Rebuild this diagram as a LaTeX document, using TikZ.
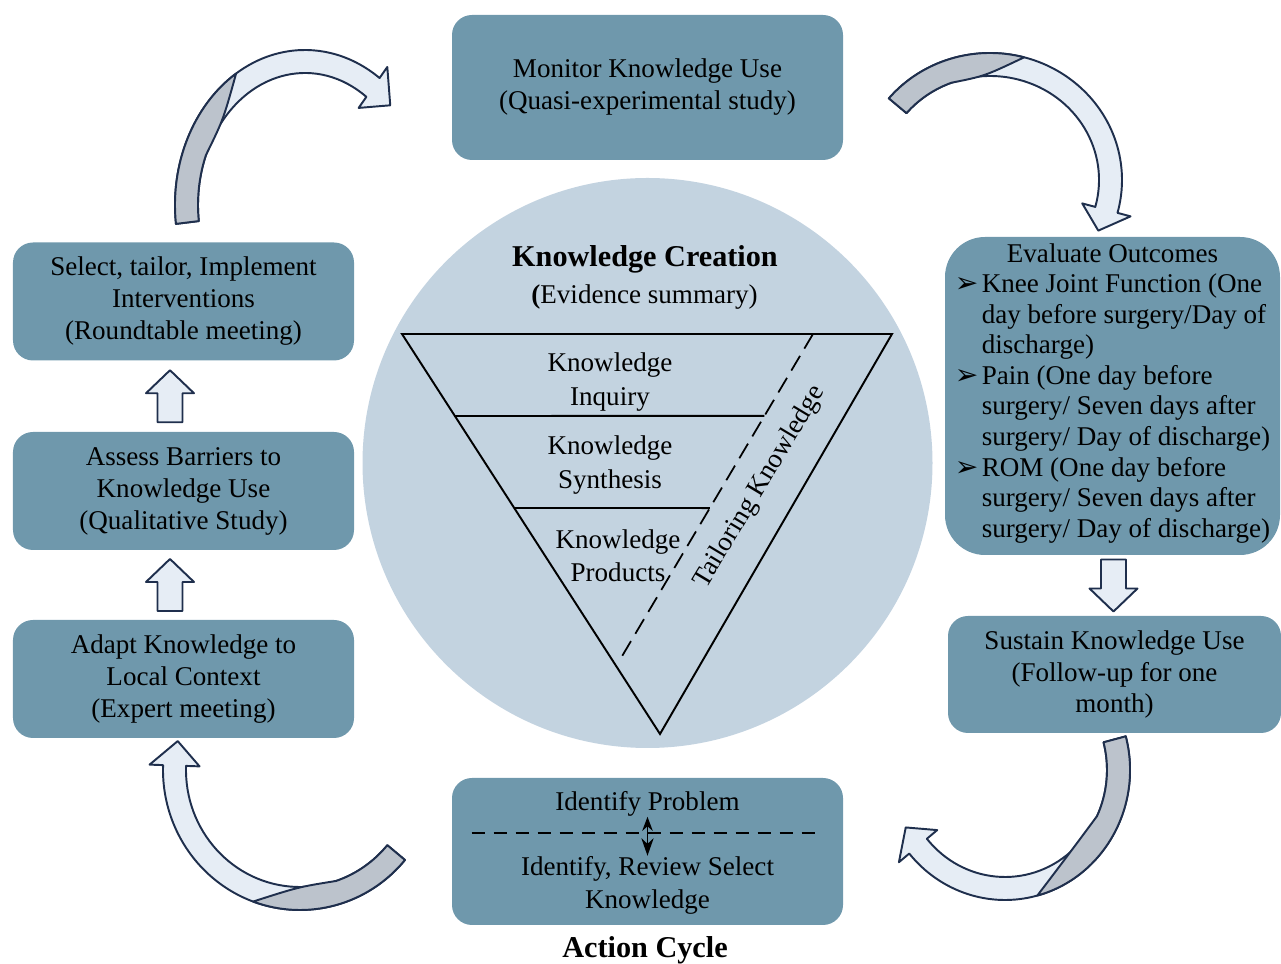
\documentclass[tikz,border=0pt]{standalone}
\usepackage{fontspec}
\setmainfont{Liberation Serif}
\newfontfamily\symfont{DejaVu Sans}
\usetikzlibrary{calc,arrows.meta}

\definecolor{boxblue}{HTML}{6F98AC}
\definecolor{discblue}{HTML}{C3D3E0}
\definecolor{arrowlight}{HTML}{E6EDF5}
\definecolor{arrowgray}{HTML}{BCC3CC}
\definecolor{arrowline}{HTML}{1F2F4D}

% bullet for the outcome list
\newcommand\bul{\makebox[0.54cm][l]{\symfont\fontsize{16}{16}\selectfont ➢}}

% curved block arrow: centre x, centre y, x radius, y radius, tail, twist, head angle
\newcommand\bendarrow[7]{%
  \begin{scope}[shift={(#1,#2)}]
    \pgfmathsetmacro\rxo{#3}\pgfmathsetmacro\ryo{#4}
    \pgfmathsetmacro\rxi{#3-0.46}\pgfmathsetmacro\ryi{#4-0.46}
    \pgfmathsetmacro\rxm{#3-0.23}\pgfmathsetmacro\rym{#4-0.23}
    \pgfmathsetmacro\rxb{#3+0.27}\pgfmathsetmacro\ryb{#4+0.27}
    \pgfmathsetmacro\rxc{#3-0.73}\pgfmathsetmacro\ryc{#4-0.73}
    \pgfmathsetmacro\hdtip{#7-11}
    \pgfmathsetmacro\twg{#5+0.45*(#6-#5)}
    \pgfmathsetmacro\twc{(#6+\twg)/2}
    % light front of the band with its head
    \draw[blockarrow] ({\rxo*cos(#5)},{\ryo*sin(#5)})
      arc[start angle=#5, end angle=#7, x radius=\rxo, y radius=\ryo]
      -- ({\rxb*cos(#7)},{\ryb*sin(#7)})
      -- ({\rxm*cos(\hdtip)},{\rym*sin(\hdtip)})
      -- ({\rxc*cos(#7)},{\ryc*sin(#7)})
      -- ({\rxi*cos(#7)},{\ryi*sin(#7)})
      arc[start angle=#7, end angle=#5, x radius=\rxi, y radius=\ryi] -- cycle;
    % grey back showing at the tail
    \draw[bendline, fill=arrowgray] ({\rxo*cos(#5)},{\ryo*sin(#5)})
      arc[start angle=#5, end angle=#6, x radius=\rxo, y radius=\ryo]
      .. controls ({\rxi*cos(\twc)},{\ryi*sin(\twc)}) .. ({\rxi*cos(\twg)},{\ryi*sin(\twg)})
      arc[start angle=\twg, end angle=#5, x radius=\rxi, y radius=\ryi] -- cycle;
  \end{scope}}

\tikzset{
  blockup/.pic={
    \draw[blockarrow] (-0.25,-0.52) -- (0.25,-0.52) -- (0.25,0.06) -- (0.48,0.06)
      -- (0,0.52) -- (-0.48,0.06) -- (-0.25,0.06) -- cycle;
  }
}

\begin{document}
\begin{tikzpicture}[
    phase/.style={fill=boxblue, rounded corners=0.4cm, align=center, inner sep=0pt,
      font=\fontsize{15.4}{18.2}\selectfont},
    sidephase/.style={phase, minimum width=6.82cm, minimum height=2.36cm},
    plain/.style={align=center, inner sep=0pt, font=\fontsize{15.4}{18.7}\selectfont},
    layer/.style={align=center, inner sep=0pt, font=\fontsize{15.4}{19}\selectfont},
    title/.style={inner sep=0pt, font=\fontsize{17.2}{20}\selectfont\bfseries},
    bendline/.style={draw=arrowline, line width=1.1pt, line join=round},
    blockarrow/.style={bendline, fill=arrowlight}
]
\useasboundingbox (0,0) rectangle (25.62,19.28);

% Knowledge creation funnel
\fill[discblue] (12.95,10.02) circle (5.7);
\node[title] (create) at (12.9,14.1) {Knowledge Creation};
\node[plain] (evid) at (12.89,13.33) {\textbf{(}Evidence summary)};

\coordinate (tl) at (8.04,12.6);
\coordinate (tr) at (17.84,12.6);
\coordinate (bot) at (13.2,4.6);
\coordinate (d1) at (16.26,12.6);
\coordinate (d2) at (12.36,6.02);
\draw[line width=1.1pt] (tl) -- (tr) -- (bot) -- cycle;
\draw[line width=1.1pt] ($(tl)!0.205!(bot)$) -- ($(d1)!0.249!(d2)$);
\draw[line width=1.1pt] ($(tl)!0.435!(bot)$) -- ($(d1)!0.529!(d2)$);
\draw[line width=1pt, dash pattern=on 0.34cm off 0.17cm] (d1) -- (d2);

\node[layer] (inquiry) at (12.2,11.64) {Knowledge\\Inquiry};
\node[layer] (synth) at (12.2,9.98) {Knowledge\\Synthesis};
\node[layer] (prod) at (12.36,8.16) {Knowledge\\Products};
\node[layer, rotate=59] (tailor) at (15.2,9.54) {Tailoring Knowledge};

% Action cycle phases
\node[phase, minimum width=7.82cm, minimum height=2.9cm] (monitor) at (12.95,17.53)
  {Monitor Knowledge Use\\(Quasi-experimental study)};
\node[sidephase] (select) at (3.67,13.25)
  {Select, tailor, Implement\\Interventions\\(Roundtable meeting)};
\node[sidephase] (assess) at (3.67,9.46)
  {Assess Barriers to\\Knowledge Use\\(Qualitative Study)};
\node[sidephase] (adapt) at (3.67,5.7)
  {Adapt Knowledge to\\Local Context\\(Expert meeting)};
\node[phase, minimum width=6.66cm, minimum height=2.34cm] (sustain) at (22.29,5.79)
  {Sustain Knowledge Use\\(Follow-up for one\\month)};
\node[phase, rounded corners=0.8cm, minimum width=6.7cm, minimum height=6.36cm] (evaluate) at (22.25,11.36)
  {\fontsize{15.4}{17.4}\selectfont
   \begin{tabular}{@{}l@{}l@{}}
   \multicolumn{2}{c}{Evaluate Outcomes}\\
   \bul & Knee Joint Function (One\\
        & day before surgery/Day of\\
        & discharge)\\
   \bul & Pain (One day before\\
        & surgery/ Seven days after\\
        & surgery/ Day of discharge)\\
   \bul & ROM (One day before\\
        & surgery/ Seven days after\\
        & surgery/ Day of discharge)\\[0.1cm]
   \end{tabular}};

\node[phase, minimum width=7.82cm, minimum height=2.94cm] (ident) at (12.95,2.25) {};
\node[plain] (prob) at (12.95,3.2) {Identify Problem};
\node[plain] (rev) at (12.95,1.58) {Identify, Review Select\\Knowledge};
\draw[line width=1.2pt, dash pattern=on 0.26cm off 0.18cm]
  ($(ident.west)+(0.4,0.37)$) -- ($(ident.east)+(-0.5,0.37)$);
\draw[line width=0.9pt, {Stealth[length=8pt,width=6pt]}-{Stealth[length=10pt,width=7pt]}]
  (prob.south) -- (rev.north);

\node[title, anchor=base] (cycle) at (12.9,0.12) {Action Cycle};

% Straight arrows between the stacked phases
\pic at ($($(assess.north)!0.5!(select.south)$)+(-0.27,0)$) {blockup};
\pic at ($($(adapt.north)!0.5!(assess.south)$)+(-0.27,0)$) {blockup};
\pic[rotate=180] at ($(evaluate.south)!0.5!(sustain.north)$) {blockup};

% Curved arrows round the cycle
\bendarrow{6.1}{15.18}{2.6}{3.1}{187}{122}{55}
\bendarrow{19.8}{15.68}{2.64}{2.54}{140}{75}{-15}
\bendarrow{20.1}{3.88}{2.5}{2.6}{15}{-75}{-140}
\bendarrow{6.0}{3.88}{2.74}{2.8}{-40}{-110}{-182}
\end{tikzpicture}
\end{document}
